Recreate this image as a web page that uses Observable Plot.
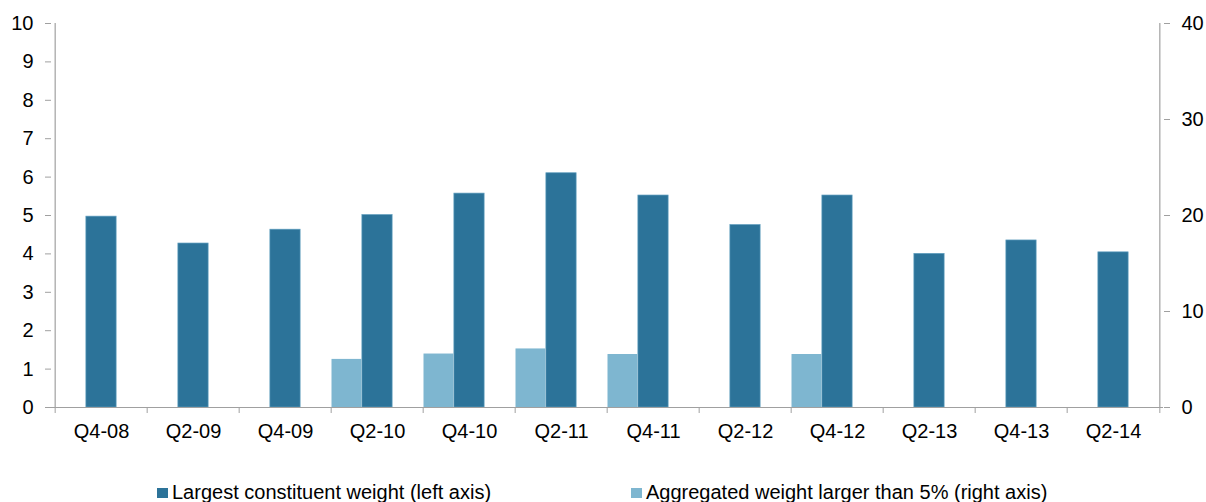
<!DOCTYPE html>
<html>
<head>
<meta charset="utf-8">
<script src="https://cdn.jsdelivr.net/npm/d3@7"></script>
<script src="https://cdn.jsdelivr.net/npm/@observablehq/plot@0.6"></script>
<style>
  body { margin: 0; background: #fff; font-family: "Liberation Sans", Arial, sans-serif; }
  #legend { position: relative; height: 42px; width: 1206px; font-size: 20px; color: #000; }
  .item { position: absolute; top: 21px; display: flex; align-items: center; white-space: nowrap; line-height: 23px; }
  .sw { width: 11px; height: 10px; display: inline-block; margin-right: 4px; }
</style>
</head>
<body>
<div id="chart"></div>
<div id="legend"></div>
<script>
const categories = ["Q4-08","Q2-09","Q4-09","Q2-10","Q4-10","Q2-11","Q4-11","Q2-12","Q4-12","Q2-13","Q4-13","Q2-14"];
const largestWeight = [4.97, 4.27, 4.63, 5.01, 5.57, 6.1, 5.52, 4.75, 5.52, 4.0, 4.35, 4.04];
const aggregatedWeight = [null, null, null, 5.01, 5.57, 6.1, 5.52, null, 5.52, null, null, null];
const leftTicks = [0,1,2,3,4,5,6,7,8,9,10];
const rightTicks = [0,10,20,30,40];
const seriesNames = ["Largest constituent weight (left axis)", "Aggregated weight larger than 5% (right axis)"];

const dark = "#2c7399";
const light = "#7eb6d0";
const axisGray = "#a0a0a0";

const W = 1206, H = 460, mL = 51, mR = 43, mT = 23, mB = 53;
const bw = (W - mL - mR) / categories.length;
const ratio = 40 / 10;

const data = categories.map((c, i) => ({cat: c, largest: largestWeight[i], agg: aggregatedWeight[i]}));
const aggData = data.filter(d => d.agg != null);

const chart = Plot.plot({
  width: W, height: H,
  marginLeft: mL, marginRight: mR, marginTop: mT, marginBottom: mB,
  style: {fontFamily: "'Liberation Sans', Arial, sans-serif", fontSize: "20px", color: "#000", background: "#fff"},
  x: {type: "band", domain: categories, padding: 0, axis: null},
  y: {domain: [0, 10], axis: null},
  marks: [
    Plot.barY(aggData, {x: "cat", y: d => d.agg / ratio, fill: light, insetLeft: 0.5, insetRight: 2 * bw / 3}),
    Plot.barY(data, {x: "cat", y: "largest", fill: dark, stroke: "#5d9cbd", strokeWidth: 0.7, insetLeft: bw / 3, insetRight: bw / 3}),
    Plot.ruleY([0], {stroke: axisGray, strokeWidth: 1.2}),
    Plot.ruleX([categories[0]], {y1: 0, y2: 10, dx: -bw / 2, stroke: axisGray, strokeWidth: 1.2}),
    Plot.ruleX([categories[categories.length - 1]], {y1: 0, y2: 10, dx: bw / 2, stroke: axisGray, strokeWidth: 1.2}),
    Plot.axisX({ticks: categories, tickSize: 6, tickFormat: () => "", dx: -bw / 2, stroke: axisGray, label: null}),
    Plot.axisX({ticks: [categories[categories.length - 1]], tickSize: 6, tickFormat: () => "", dx: bw / 2, stroke: axisGray, label: null}),
    Plot.axisX({ticks: categories, tickSize: 0, tickPadding: 16, fontSize: 20, fill: "#000", label: null}),
    Plot.axisY({anchor: "left", ticks: leftTicks, tickSize: 6, tickPadding: 12, stroke: axisGray, fill: "#000", fontSize: 20, label: null}),
    Plot.axisY({anchor: "right", ticks: rightTicks.map(t => t / ratio), tickFormat: d => String(Math.round(d * ratio)), tickSize: 6, tickPadding: 12, stroke: axisGray, fill: "#000", fontSize: 20, label: null})
  ]
});
document.getElementById("chart").appendChild(chart);

const legend = document.getElementById("legend");
[[seriesNames[0], dark, 157], [seriesNames[1], light, 631]].forEach(([name, col, left]) => {
  const it = document.createElement("div");
  it.className = "item";
  it.style.left = left + "px";
  const sw = document.createElement("span");
  sw.className = "sw";
  sw.style.background = col;
  const tx = document.createElement("span");
  tx.textContent = name;
  it.appendChild(sw); it.appendChild(tx);
  legend.appendChild(it);
});
</script>
</body>
</html>
